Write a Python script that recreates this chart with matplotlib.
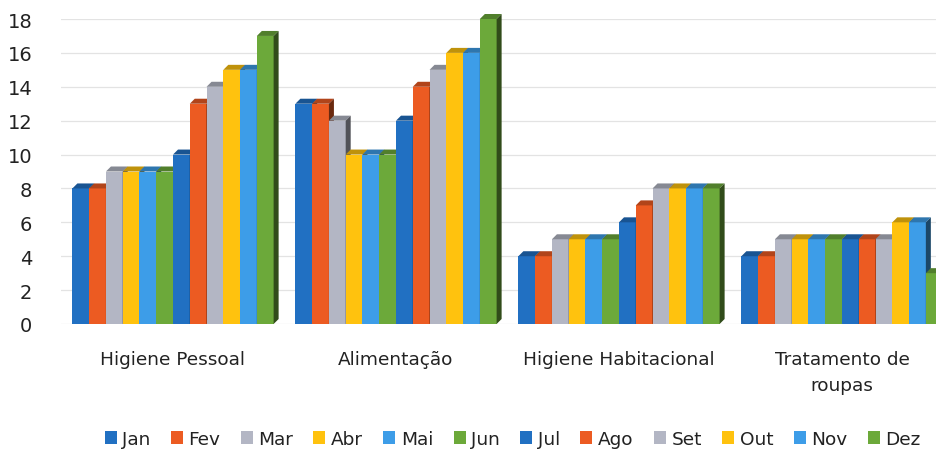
import matplotlib
matplotlib.use("Agg")
import matplotlib.pyplot as plt
from matplotlib.patches import Polygon, Patch
import matplotlib.colors as mcolors
import numpy as np

categories = ["Higiene Pessoal", "Alimentação", "Higiene Habitacional", "Tratamento de\nroupas"]
months = ["Jan", "Fev", "Mar", "Abr", "Mai", "Jun", "Jul", "Ago", "Set", "Out", "Nov", "Dez"]
higiene_pessoal = [8, 8, 9, 9, 9, 9, 10, 13, 14, 15, 15, 17]
alimentacao = [13, 13, 12, 10, 10, 10, 12, 14, 15, 16, 16, 18]
higiene_habitacional = [4, 4, 5, 5, 5, 5, 6, 7, 8, 8, 8, 8]
tratamento_roupas = [4, 4, 5, 5, 5, 5, 5, 5, 5, 6, 6, 3]
y_ticks = [0, 2, 4, 6, 8, 10, 12, 14, 16, 18]

series = [higiene_pessoal, alimentacao, higiene_habitacional, tratamento_roupas]
base_colors = ["#2170C2", "#EC5B22", "#B3B6C4", "#FFC20E", "#3D9DE8", "#6CA93A"]
colors = base_colors + base_colors

W, H = 937, 452
fig = plt.figure(figsize=(W / 100, H / 100), dpi=100)
left_px, right_px, bottom_px, top_px = 61.5, 937, 325, 20
ax = fig.add_axes([left_px / W, (H - bottom_px) / H, (right_px - left_px) / W, (bottom_px - top_px) / H])
unit_px = 223.0
ax.set_xlim(-0.5, -0.5 + (right_px - left_px) / unit_px)
ax.set_ylim(0, 18)

for s in ax.spines.values():
    s.set_visible(False)
ax.set_yticks(y_ticks)
ax.set_yticklabels([str(t) for t in y_ticks], fontsize=14, color="#222222")
ax.tick_params(axis="y", length=0, pad=21)
ax.yaxis.grid(True, color="#E3E3E3", linewidth=0.9)
ax.set_axisbelow(True)

x = np.arange(len(categories))
ax.set_xticks(x)
ax.set_xticklabels(categories, fontsize=13.3, color="#222222", linespacing=1.55)
ax.tick_params(axis="x", length=0, pad=19)

w = 0.0752
dx = 5.0 / unit_px
dy = 5.0 / ((bottom_px - top_px) / 18.0)

def darker(c, f=0.6):
    r, g, b = mcolors.to_rgb(c)
    return (r * f, g * f, b * f)

z = 2
for ci, vals in enumerate(series):
    for mi, v in enumerate(vals):
        xc = x[ci] + (mi - 5.5) * w
        x0, x1 = xc - w / 2, xc + w / 2
        col = colors[mi]
        ax.add_patch(Polygon([[x0, 0], [x1, 0], [x1, v], [x0, v]], closed=True,
                             facecolor=col, edgecolor="none", zorder=z, clip_on=False))
        ax.add_patch(Polygon([[x0, v], [x1, v], [x1 + dx, v + dy], [x0 + dx, v + dy]], closed=True,
                             facecolor=darker(col, 0.75), edgecolor="none", zorder=z, clip_on=False))
        ax.add_patch(Polygon([[x1, 0], [x1 + dx, dy], [x1 + dx, v + dy], [x1, v]], closed=True,
                             facecolor=darker(col, 0.45), edgecolor="none", zorder=z, clip_on=False))
        z += 0.01

handles = [Patch(facecolor=colors[i], edgecolor="none", label=months[i]) for i in range(12)]
fig.legend(handles=handles, loc="lower center", bbox_to_anchor=(0.547, -0.03), ncol=12,
           frameon=False, fontsize=13.3, handlelength=0.65, handleheight=0.65,
           handletextpad=0.3, columnspacing=1.1, labelcolor="#222222")

fig.savefig("out.png", dpi=100, facecolor="white")
